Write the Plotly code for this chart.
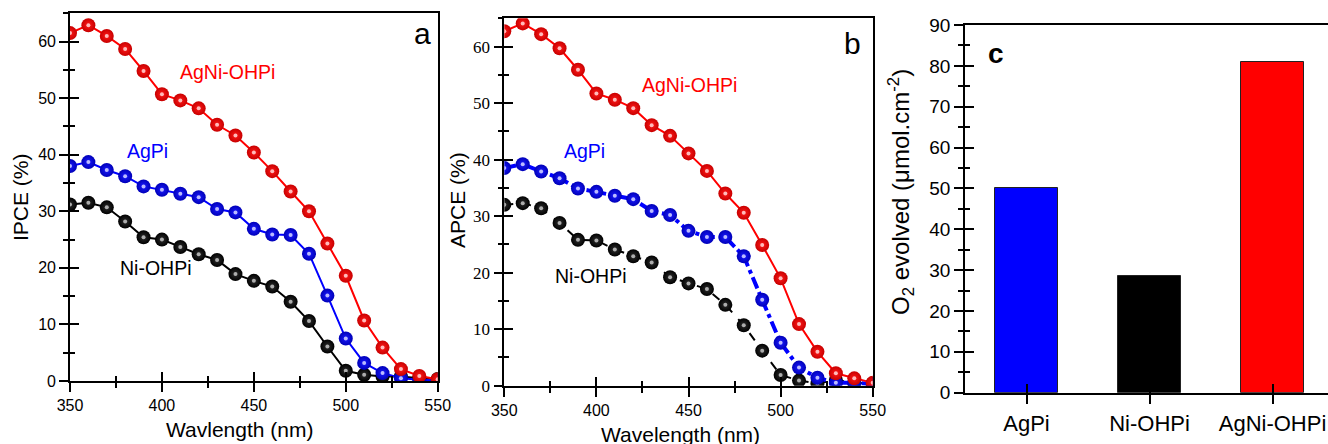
import plotly.graph_objects as go

# Wavelength grid (nm)
wavelength = [350, 360, 370, 380, 390, 400, 410, 420, 430, 440, 450,
              460, 470, 480, 490, 500, 510, 520, 530, 540, 550]

# IPCE (%)
ipce_agni = [61.5, 62.9, 61.0, 58.7, 54.8, 50.7, 49.6, 48.2, 45.3, 43.4, 40.4,
             37.1, 33.5, 30.0, 24.3, 18.6, 10.7, 5.9, 2.1, 0.9, 0.3]
ipce_agpi = [38.0, 38.7, 37.3, 36.2, 34.4, 33.8, 33.1, 32.5, 30.4, 29.8, 26.9,
             25.9, 25.8, 22.5, 15.1, 7.5, 3.2, 1.4, 0.5, 0.2, 0.1]
ipce_ni = [31.2, 31.5, 30.7, 28.2, 25.4, 25.0, 23.7, 22.4, 21.4, 18.9, 17.7,
           16.7, 14.0, 10.6, 6.1, 1.8, 1.1, 0.8, 0.8, 0.5, 0.35]

# APCE (%)
apce_agni = [62.7, 64.1, 62.2, 59.7, 55.9, 51.7, 50.6, 49.1, 46.1, 44.2, 41.1,
             38.0, 34.0, 30.6, 24.9, 19.0, 10.9, 6.0, 2.2, 1.3, 0.5]
apce_agpi = [38.5, 39.2, 37.9, 36.7, 34.9, 34.3, 33.6, 33.0, 30.9, 30.2, 27.4,
             26.3, 26.3, 22.9, 15.2, 7.6, 3.2, 1.4, 0.5, 0.5, 0.3]
apce_ni = [32.0, 32.3, 31.4, 28.8, 25.8, 25.7, 24.1, 22.9, 21.8, 19.2, 18.1,
           17.1, 14.3, 10.7, 6.2, 1.9, 0.9, 0.4, 1.0, 0.5, 0.4]

# O2 evolved (umol cm^-2)
catalysts = ["AgPi", "Ni-OHPi", "AgNi-OHPi"]
o2_evolved = [50.0, 28.5, 81.0]

SANS = "Liberation Sans, Arial, sans-serif"
SERIF = "Liberation Serif, Times New Roman, serif"

RED, BLUE, BLACK = "#ff0000", "#0000ff", "#000000"
# edge colour, centre colour, highlight colour for each sphere style
SPHERE = {
    "red": ("#c80000", "#ff1a1a", "#ffc4c4"),
    "blue": ("#0000b8", "#1a1aff", "#c4c4ff"),
    "black": ("#000000", "#2e2e2e", "#b4b4b4"),
}

fig = go.Figure()


def add_curve(x, y, color, sphere, xa, ya, dash="solid", width=2, size=14):
    edge, centre, hl = SPHERE[sphere]
    fig.add_trace(go.Scatter(
        x=x, y=y, xaxis=xa, yaxis=ya, mode="lines+markers",
        line=dict(color=color, width=width, dash=dash),
        marker=dict(size=size, color=edge,
                    gradient=dict(type="radial", color=centre),
                    line=dict(width=0)),
        showlegend=False, hoverinfo="skip"))
    # specular highlight on each sphere
    fig.add_trace(go.Scatter(
        x=x, y=y, xaxis=xa, yaxis=ya, mode="markers",
        marker=dict(size=4, color=hl, opacity=0.95, line=dict(width=0)),
        showlegend=False, hoverinfo="skip"))


# panel a
add_curve(wavelength, ipce_ni, BLACK, "black", "x", "y")
add_curve(wavelength, ipce_agpi, BLUE, "blue", "x", "y")
add_curve(wavelength, ipce_agni, RED, "red", "x", "y")

# panel b
add_curve(wavelength, apce_ni, BLACK, "black", "x2", "y2", dash="dash", width=2)
add_curve(wavelength, apce_agpi, BLUE, "blue", "x2", "y2", dash="dashdot", width=4)
add_curve(wavelength, apce_agni, RED, "red", "x2", "y2")

# panel c
bar_pos = list(range(len(catalysts)))
fig.add_trace(go.Bar(
    x=bar_pos, y=o2_evolved, xaxis="x3", yaxis="y3", width=0.51,
    marker=dict(color=[BLUE, BLACK, RED], line=dict(color="#222222", width=1)),
    showlegend=False, hoverinfo="skip"))

# empty traces so the inward-tick overlay axes get drawn
for xa, ya in (("x4", "y4"), ("x5", "y5"), ("x6", "y6")):
    fig.add_trace(go.Scatter(x=[], y=[], xaxis=xa, yaxis=ya, mode="markers",
                             showlegend=False, hoverinfo="skip"))

LW = 1.6
dom_a = ([70 / 1328, 437.7 / 1328], [(444 - 381) / 444, (444 - 13.3) / 444])
dom_b = ([504.3 / 1328, 872.7 / 1328], [(444 - 385.7) / 444, (444 - 18.3) / 444])
dom_c = ([965 / 1328, 1.0], [(444 - 392.7) / 444, (444 - 25) / 444])

x_range = [350, 550]
y_range = [0, 65]
c_x_range = [-0.5, -0.5 + 363 / 123]
c_y_range = [0, 90]


def base_axis(domain, rng, anchor, dtick, minor_dtick, font, mirror=True):
    return dict(domain=domain, range=rng, anchor=anchor, showgrid=False,
                zeroline=False, showline=True, linecolor="black", linewidth=LW,
                mirror=mirror, ticks="outside", ticklen=9, tickwidth=LW,
                tickcolor="black", dtick=dtick, tick0=0,
                minor=dict(ticks="outside", ticklen=5, tickwidth=LW,
                           tickcolor="black", dtick=minor_dtick, showgrid=False),
                tickfont=font, automargin=False, fixedrange=True)


def inner_axis(overlay, rng, anchor, dtick, minor_dtick):
    return dict(overlaying=overlay, range=rng, anchor=anchor, showgrid=False,
                zeroline=False, showline=False, showticklabels=False,
                ticks="inside", ticklen=9, tickwidth=LW, tickcolor="black",
                dtick=dtick, tick0=0,
                minor=dict(ticks="inside", ticklen=5, tickwidth=LW,
                           tickcolor="black", dtick=minor_dtick, showgrid=False),
                automargin=False, fixedrange=True)


f_a = dict(family=SANS, size=16, color="black")
f_bx = dict(family=SANS, size=16, color="black")
f_by = dict(family=SERIF, size=17, color="black")
f_c = dict(family=SANS, size=19, color="black")

layout = dict(
    width=1328, height=444,
    margin=dict(l=0, r=0, t=0, b=0, pad=0, autoexpand=False),
    paper_bgcolor="white", plot_bgcolor="white", showlegend=False,
    bargap=0,
    xaxis=base_axis(dom_a[0], x_range, "y", 50, 25, f_a),
    yaxis=base_axis(dom_a[1], y_range, "x", 10, 5, f_a),
    xaxis2=base_axis(dom_b[0], x_range, "y2", 50, 25, f_bx),
    yaxis2=base_axis(dom_b[1], y_range, "x2", 10, 5, f_by),
    xaxis3=dict(domain=dom_c[0], range=c_x_range, anchor="y3", showgrid=False,
                zeroline=False, showline=True, linecolor="black", linewidth=LW,
                mirror=True, ticks="outside", ticklen=9, tickwidth=LW,
                tickcolor="black", tickvals=bar_pos, ticktext=catalysts,
                tickfont=dict(family=SANS, size=22, color="black"),
                ticklabelstandoff=1, automargin=False, fixedrange=True),
    yaxis3=base_axis(dom_c[1], c_y_range, "x3", 10, 5, f_c, mirror=False),
    xaxis4=inner_axis("x", x_range, "y4", 50, 25),
    yaxis4=inner_axis("y", y_range, "x4", 10, 5),
    xaxis5=inner_axis("x2", x_range, "y5", 50, 25),
    yaxis5=inner_axis("y2", y_range, "x5", 10, 5),
    xaxis6=dict(overlaying="x3", range=c_x_range, anchor="y6", showgrid=False,
                zeroline=False, showline=False, showticklabels=False,
                ticks="inside", ticklen=9, tickwidth=LW, tickcolor="black",
                tickvals=bar_pos, automargin=False, fixedrange=True),
    yaxis6=inner_axis("y3", c_y_range, "x6", 10, 5),
)
fig.update_layout(**layout)

ann = []


def text(x, y, s, size, color="black", xref="paper", yref="paper", angle=0,
         family=SANS, bold=False):
    ann.append(dict(x=x, y=y, xref=xref, yref=yref, text=f"<b>{s}</b>" if bold else s,
                    showarrow=False, textangle=angle, xanchor="center",
                    yanchor="middle",
                    font=dict(family=family, size=size, color=color)))


# axis titles
text(239 / 1328, (444 - 429) / 444, "Wavlength (nm)", 21)
text(20 / 1328, (444 - 197) / 444, "IPCE (%)", 21, angle=-90)
text(680 / 1328, (444 - 434) / 444, "Wavelength (nm)", 21)
text(458 / 1328, (444 - 200) / 444, "APCE (%)", 21, angle=-90)
text(901 / 1328, (444 - 192) / 444, "O<sub>2</sub> evolved (μmol.cm<sup>-2</sup>)",
     24, angle=-90)

# series labels, panel a
text(435.5, 54.6, "AgNi-OHPi", 19.5, RED, "x", "y")
text(392.3, 40.7, "AgPi", 19.5, BLUE, "x", "y")
text(396.7, 19.9, "Ni-OHPi", 19.5, BLACK, "x", "y")
text(542, 61.5, "a", 30, BLACK, "x", "y")

# series labels, panel b
text(450.4, 53.2, "AgNi-OHPi", 19.5, RED, "x2", "y2")
text(393.4, 41.6, "AgPi", 19.5, BLUE, "x2", "y2")
text(397.0, 19.4, "Ni-OHPi", 19.5, BLACK, "x2", "y2")
text(538.9, 60.6, "b", 30, BLACK, "x2", "y2")

# panel c tag
text(-0.25, 83.1, "c", 28, BLACK, "x3", "y3", bold=True)

fig.update_layout(annotations=ann)
fig.write_html("out.html")
